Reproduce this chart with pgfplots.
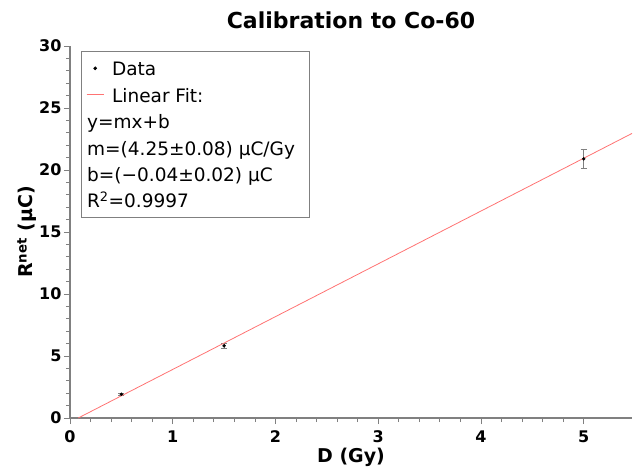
\documentclass[border=0pt]{standalone}
\usepackage{fontspec}
\setmainfont{DejaVu Sans}
\usepackage{pgfplots}
\pgfplotsset{compat=1.18}
\definecolor{fitred}{RGB}{255,115,115}
\definecolor{axgray}{RGB}{128,128,128}

\begin{document}
\begin{tikzpicture}
\begin{axis}[
    width=562pt, height=372pt, scale only axis,
    xmin=0, xmax=5.47, ymin=0, ymax=30,
    axis x line*=bottom, axis y line*=left,
    axis line style={axgray, line width=1.3pt},
    xtick={0,1,2,3,4,5}, ytick={0,5,10,15,20,25,30},
    minor x tick num=4, minor y tick num=4,
    tick align=outside,
    major tick length=6pt, minor tick length=4pt,
    every tick/.style={axgray, line width=0.8pt},
    /pgf/number format/assume math mode=true,
    ticklabel style={font=\fontsize{16}{16}\selectfont\bfseries},
    yticklabel style={xshift=1pt},
    xticklabel style={yshift=-3pt},
    title={Calibration to Co-60},
    title style={font=\fontsize{22}{22}\selectfont\bfseries,
        at={(0.5,1)}, anchor=base, yshift=11pt},
    xlabel={D (Gy)},
    ylabel={R\textsuperscript{net} (μC)},
    every axis x label/.style={at={(axis description cs:0.5,0)}, anchor=base,
        yshift=-44pt, font=\fontsize{19}{19}\selectfont\bfseries},
    every axis y label/.style={at={(axis description cs:0,0.5)}, xshift=-43pt,
        rotate=90, anchor=center, font=\fontsize{19}{19}\selectfont\bfseries},
    legend cell align=left,
    legend style={at={(0.0195,0.987)}, anchor=north west,
        draw=axgray, line width=0.6pt,
        font=\fontsize{18.5}{20}\selectfont,
        row sep=0pt, inner xsep=5pt, inner ysep=4pt,
        nodes={inner xsep=3pt, inner ysep=0.7pt, text height=20pt, text depth=5pt}},
]
\addplot[only marks, mark=*, mark size=1.5pt, black,
    error bars/.cd, y dir=both, y explicit,
    error bar style={axgray, line width=0.7pt},
    error mark options={rotate=90, mark size=3pt, axgray, line width=0.7pt}]
    coordinates {
    (0.5,1.92) +- (0,0.1)
    (1.5,5.82) +- (0,0.24)
    (5.0,20.90) +- (0,0.8)
};
\addlegendentry{\hspace*{5pt}Data}
\addplot[fitred, line width=0.8pt] coordinates {(0.08,0) (5.47,22.95)};
\addlegendentry{\hspace*{5pt}Linear Fit:}
\addlegendimage{empty legend}
\addlegendentry{\hspace*{-20pt}y=mx+b}
\addlegendimage{empty legend}
\addlegendentry{\hspace*{-20pt}m=(4.25±0.08) μC/Gy\hspace*{6pt}}
\addlegendimage{empty legend}
\addlegendentry{\hspace*{-20pt}b=(−0.04±0.02) μC}
\addlegendimage{empty legend}
\addlegendentry{\hspace*{-20pt}R\textsuperscript{2}=0.9997}
\end{axis}
\path (current axis.south west) ++(-70pt,-53pt);
\path (current axis.north east) ++(1pt,46pt);
\end{tikzpicture}
\end{document}
